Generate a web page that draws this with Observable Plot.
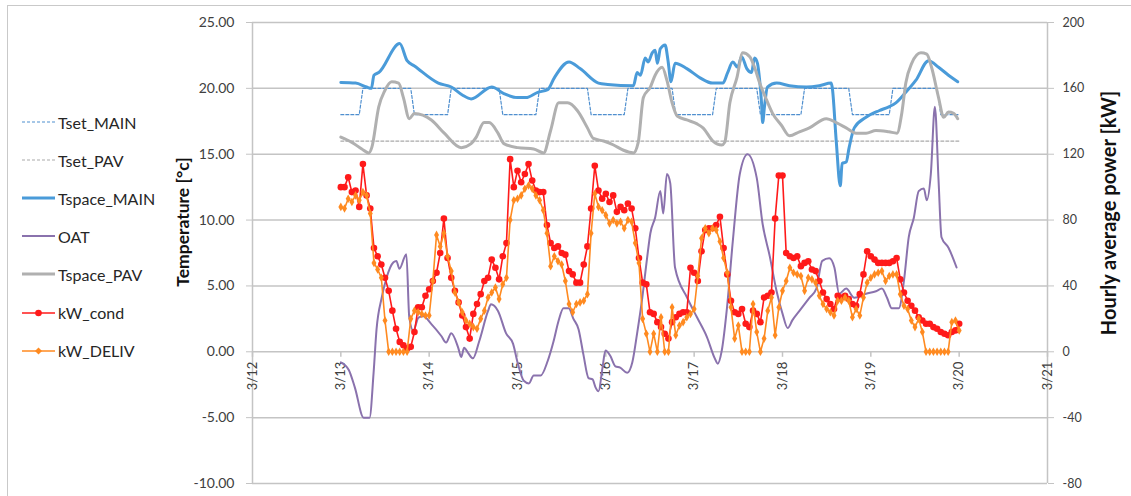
<!DOCTYPE html>
<html><head><meta charset="utf-8">
<script src="https://cdn.jsdelivr.net/npm/d3@7"></script>
<script src="https://cdn.jsdelivr.net/npm/@observablehq/plot@0.6"></script>
<style>
html,body{margin:0;padding:0;background:#fff;overflow:hidden;}
#wrap{position:relative;width:1131px;height:496px;font-family:Lato,"Open Sans",sans-serif;overflow:hidden;}
#frame{position:absolute;left:7px;top:5px;width:1300px;height:700px;border-left:1.5px solid #c9c9c9;border-top:1.5px solid #c9c9c9;}
#chart{position:absolute;left:0;top:0;}
#legend{position:absolute;left:22px;top:0;}
.item{position:absolute;left:0;display:flex;align-items:center;white-space:nowrap;font-size:16px;color:#262626;height:20px;}
.item svg{margin-right:2px;}
</style></head><body>
<div id="wrap"><div id="frame"></div><div id="chart"></div><div id="legend"></div></div>
<script>
// ---------- DATA ----------
// x positions: hours since 3/13 00:00 ; temperatures in °C ; power in kW
const startDay = 13;
const dayTicks = [12, 13, 14, 15, 16, 17, 18, 19, 20, 21];
const dayLabels = ["3/12", "3/13", "3/14", "3/15", "3/16", "3/17", "3/18", "3/19", "3/20", "3/21"];
const tempTicks = [-10, -5, 0, 5, 10, 15, 20, 25];
const kWPerDegree = 8; // right axis 200 kW ↔ left axis 25 °C

const tsetMainHours = [0,5,6,19,20,29,30,43,44,53,54,67,68,77,78,90,91,101,102,113,114,125,126,138,139,149,150,162,163,168];
const tsetMainValues = [18,18,20,20,18,18,20,20,18,18,20,20,18,18,20,20,18,18,20,20,18,18,20,20,18,18,20,20,18,18];

const tsetPavHours = [0, 168];
const tsetPavValues = [16, 16];

const tspaceMainHours = [0,4,7,8.3,9,10.3,16,18,20,26.5,30,33,35.4,41,44.3,48,50.3,53.5,56.2,58,62,65,70,72.5,79.5,80.5,81.4,82.7,83.5,84.6,85.4,86,86.8,88.1,88.9,89.7,90.8,94,97.6,101,103.8,105.1,106.5,107.8,108.9,110.3,111.6,112.4,113.2,113.8,114.3,114.6,115.1,115.9,118.4,121.9,126.5,130,133.2,133.5,134.6,135.7,136.2,137.3,138.1,139.5,142.7,146.2,148.9,150.8,153.5,156.2,159.7,162.4,165.1,167.6];
const tspaceMainValues = [20.45,20.4,20.1,20.0,21.0,21.2,23.4,22.1,21.7,20.4,20.1,19.5,19.2,20.1,19.6,19.3,19.3,19.7,19.9,20.8,22.0,21.5,20.4,20.3,20.2,21.2,21.0,22.3,22.0,22.7,22.9,21.9,23.0,23.3,22.1,20.5,21.9,21.5,20.8,20.4,20.4,21.2,22.0,21.6,22.4,21.5,21.2,22.3,21.9,20.6,18.9,17.4,18.6,20.1,20.4,20.2,20.1,20.2,20.4,20.1,16.0,12.6,14.3,14.4,15.5,17.0,17.8,18.3,18.6,18.9,19.7,20.6,22.1,21.6,21.0,20.5];

const oatHours = [0,2.2,3.8,6.2,7.8,8.9,9.7,11.1,12.4,14.3,15.1,15.9,17.8,18.6,19.7,21.1,22.4,24.6,27.3,28.6,30,31.9,32.7,33.5,34.6,35.9,37.6,40,40.8,42.7,44.9,46.8,48.1,49.7,51.1,52.4,54.3,56.2,57.8,59.2,60.5,61.9,63.2,64.6,65.9,67.3,68.4,69.2,70,71.1,71.9,73.2,74.6,75.9,77.8,79.2,80.5,81.9,83.2,84.1,85.4,86.8,87.6,88.6,89.5,90.8,94.1,96.8,99.5,101.6,102.4,103.5,104.9,106.5,108.4,110.5,113,114.6,116.5,118.4,120,121.4,122.7,124.6,127.3,129.2,130.8,132.7,134.1,135.4,137.3,139.5,142.7,145.4,147,148.4,149.7,151.6,153,154.3,155.7,157,158.4,159.2,160.3,161.4,162.4,163.2,165.1,167.3];
const oatValues = [-0.8,-1.4,-2.7,-5.0,-5.0,-1.6,1.7,4.1,5.6,6.8,6.9,6.3,7.4,2.6,1.6,2.6,2.7,2.1,1.2,0.7,1.4,0.3,-0.4,0.3,-0.1,-0.5,0.8,3.1,3.6,3.1,1.4,0.6,-0.9,-2.2,-2.4,-1.8,-1.8,-0.7,0.8,2.4,3.3,3.3,2.5,1.7,-0.2,-2.0,-2.1,-2.7,-3.0,-1.2,0.1,-0.3,-1.1,-1.2,-1.6,-0.8,1.4,4.1,7.1,9.0,10.2,12.2,10.5,13.5,12.8,6.4,4.1,2.6,1.1,-0.5,-0.9,0.1,3.3,8.4,13.5,15.0,13.2,9.7,7.3,4.6,2.9,1.8,2.4,3.1,4.1,4.8,6.9,7.1,6.4,4.4,4.8,4.1,4.4,4.6,4.8,4.1,3.3,3.3,5.4,8.7,10.2,12.2,12.4,11.5,13.5,18.6,13.0,8.7,7.9,6.4];

const tspacePavHours = [0,3,5.7,7.6,8.4,10.3,11.9,13.8,15.7,17,18.6,20,24.6,28.1,32.7,35.4,36.8,38.9,40.3,42.7,44.3,48.1,52.4,55.1,57,59.2,61.6,64.3,67,68.6,71.4,74.1,76.8,79.5,80.8,82.2,84.1,85.4,87.3,88.6,90,91.4,94,96.8,98.4,101.1,103.5,104.3,105.7,107.6,109.2,111.1,112.4,113.8,115.7,117.3,119.7,121.9,124.6,127.3,131.9,134.6,137.3,140,142.7,145.4,148.9,151.1,152.4,153.5,155.1,157.6,159.2,160.5,162.4,163.8,165.1,166.5,167.6];
const tspacePavValues = [16.3,15.9,15.4,15.1,15.5,18.6,19.8,20.5,20.4,19.3,17.7,18.1,17.6,16.6,15.5,15.8,16.3,17.4,17.4,16.6,15.8,15.5,15.4,15.1,16.8,18.9,18.9,18.3,17.0,16.2,16.0,15.7,15.3,15.1,15.9,19.3,20.1,21.0,21.6,20.6,18.9,17.9,17.6,17.3,17.0,16.0,15.7,15.9,18.9,20.8,22.7,22.4,21.6,20.4,19.1,18.1,17.2,16.4,16.7,17.0,17.7,17.4,17.0,16.6,16.6,16.8,16.7,16.6,18.1,20.4,21.9,22.7,22.6,21.6,19.3,17.8,18.2,18.1,17.7];

// hourly power, hour 0 (3/13 00:00) .. hour 168 (3/20 00:00)
const kWcond = [100,100,106,97,98,88,114,95,87,63,58,53,45,37,25,14,6,4,2,3,12,27,27,34,38,
 43,48,60,81,57,45,37,30,22,15,8,23,29,35,43,45,56,51,44,58,66,
 117,100,110,103,108,114,104,98,97,97,77,66,63,64,60,59,49,47,42,42,53,64,87,113,98,93,
 96,91,95,85,88,86,90,87,75,57,42,41,24,23,18,15,11,8,18,21,23,24,24,51,48,43,61,74,75,75,77,82,
 63,47,31,24,23,26,17,15,25,23,18,33,34,36,81,107,107,
 60,58,57,58,52,54,55,50,49,43,36,32,29,26,34,33,34,32,29,28,35,47,61,58,56,54,54,54,54,55,57,44,36,31,28,25,21,19,17,17,15,14,12,11,10,12,13,17];
const kWdeliv = [88,87,93,91,95,92,97,95,84,54,50,45,19,0,0,0,0,0,0,20,25,24,23,22,22,
 43,71,64,72,58,49,36,30,24,19,17,15,14,20,25,33,36,39,32,41,45,
 80,92,93,95,99,101,99,95,92,86,72,52,58,55,53,43,29,24,29,30,31,35,72,96,88,86,
 83,78,80,78,79,75,80,79,66,54,20,11,0,11,0,21,0,0,27,10,16,18,21,23,26,46,69,75,72,75,74,67,
 57,48,27,8,16,0,0,0,29,12,0,8,25,33,10,27,37,
 43,51,48,47,46,37,45,44,42,34,29,26,24,22,31,31,33,31,21,26,22,33,42,45,47,48,49,43,46,47,47,35,28,26,19,15,20,12,0,0,0,0,0,0,0,18,19,13];

const colors = {
  Tset_MAIN: "#4f8fcf", Tset_PAV: "#a9a9a9", Tspace_MAIN: "#4a9bd9",
  OAT: "#8a72ad", Tspace_PAV: "#b0b0b0", kW_cond: "#ff1a1a", kW_DELIV: "#ff8a20"
};

// ---------- BUILD ----------
const toDay = h => startDay + h / 24;
const series = (hs, vs, f = v => v) => hs.map((h, i) => ({x: toDay(h), y: f(vs[i])}));
const kwToT = v => v / kWPerDegree;

const tsetMain = series(tsetMainHours, tsetMainValues);
const tsetPav = series(tsetPavHours, tsetPavValues);
const tspaceMain = series(tspaceMainHours, tspaceMainValues);
const oat = series(oatHours, oatValues);
const tspacePav = series(tspacePavHours, tspacePavValues);
const cond = series(kWcond.map((_, i) => i), kWcond, kwToT);
const deliv = series(kWdeliv.map((_, i) => i), kWdeliv, kwToT);

const grid = "#c4c4c4";

const chart = Plot.plot({
  width: 1131, height: 496,
  marginLeft: 252, marginRight: 84, marginTop: 22, marginBottom: 13,
  x: {domain: [12, 21], axis: null},
  y: {domain: [-10, 25]},
  style: {fontFamily: "Lato, 'Open Sans', sans-serif", fontSize: "14px", color: "#404040", background: "transparent", overflow: "visible"},
  marks: [
    Plot.gridY(tempTicks, {stroke: grid, strokeOpacity: 1, strokeWidth: 1.5}),
    Plot.ruleX([12, 21], {stroke: grid, strokeWidth: 1.5}),
    Plot.axisY(tempTicks, {anchor: "left", tickFormat: d => d.toFixed(2), tickSize: 6, tickPadding: 12, stroke: grid, fontSize: 14, label: null}),
    Plot.axisY(tempTicks, {anchor: "right", tickFormat: d => String(d * kWPerDegree), tickSize: 6, tickPadding: 9, stroke: grid, fontSize: 12.5, label: null}),
    Plot.ruleX(dayTicks, {x: d => d, y1: 0, y2: -0.42, stroke: grid, strokeWidth: 1.5}),
    Plot.text(dayTicks, {x: d => d, y: 0, text: (d, i) => dayLabels[i], rotate: -90, textAnchor: "end", dy: 10, fontSize: 13}),
    Plot.text(["Temperature [°c]"], {text: d => d, frameAnchor: "left", textAnchor: "middle", dx: -69, dy: -31, rotate: -90, fontWeight: "bold", fontSize: 17.5, fill: "#111"}),
    Plot.text(["Hourly average power [kW]"], {text: d => d, frameAnchor: "right", textAnchor: "middle", dx: 62, dy: -40, rotate: -90, fontWeight: "bold", fontSize: 20, fill: "#111"}),

    Plot.line(tsetMain, {x: "x", y: "y", stroke: colors.Tset_MAIN, strokeWidth: 1.2, strokeDasharray: "3,2"}),
    Plot.line(tsetPav, {x: "x", y: "y", stroke: colors.Tset_PAV, strokeWidth: 1.2, strokeDasharray: "3,2"}),
    Plot.line(tspaceMain, {x: "x", y: "y", stroke: colors.Tspace_MAIN, strokeWidth: 3, curve: "monotone-x"}),
    Plot.line(oat, {x: "x", y: "y", stroke: colors.OAT, strokeWidth: 2, curve: "monotone-x"}),
    Plot.line(tspacePav, {x: "x", y: "y", stroke: colors.Tspace_PAV, strokeWidth: 3, curve: "monotone-x"}),

    Plot.line(cond, {x: "x", y: "y", stroke: colors.kW_cond, strokeWidth: 1.6}),
    Plot.dot(cond, {x: "x", y: "y", r: 3.3, fill: colors.kW_cond}),
    Plot.line(deliv, {x: "x", y: "y", stroke: colors.kW_DELIV, strokeWidth: 1.6}),
    Plot.dot(deliv, {x: "x", y: "y", r: 2.6, symbol: "diamond", fill: colors.kW_DELIV})
  ]
});
document.getElementById("chart").appendChild(chart);

// ---------- LEGEND ----------
const legendItems = [
  {name: "Tset_MAIN", color: colors.Tset_MAIN, width: 1.2, dash: "3,2"},
  {name: "Tset_PAV", color: colors.Tset_PAV, width: 1.2, dash: "3,2"},
  {name: "Tspace_MAIN", color: colors.Tspace_MAIN, width: 3},
  {name: "OAT", color: colors.OAT, width: 2},
  {name: "Tspace_PAV", color: colors.Tspace_PAV, width: 3},
  {name: "kW_cond", color: colors.kW_cond, width: 1.6, marker: "circle"},
  {name: "kW_DELIV", color: colors.kW_DELIV, width: 1.6, marker: "diamond"}
];
const legend = d3.select("#legend");
legendItems.forEach((it, i) => {
  const row = legend.append("div").attr("class", "item").style("top", (112 + i * 38.1) + "px");
  const s = row.append("svg").attr("width", 34).attr("height", 20);
  s.append("line").attr("x1", 0).attr("x2", 33).attr("y1", 10).attr("y2", 10)
    .attr("stroke", it.color).attr("stroke-width", it.width).attr("stroke-dasharray", it.dash || null);
  if (it.marker === "circle") s.append("circle").attr("cx", 16.5).attr("cy", 10).attr("r", 3.3).attr("fill", it.color);
  if (it.marker === "diamond") s.append("path").attr("d", "M16.5,6.5L20,10L16.5,13.5L13,10Z").attr("fill", it.color);
  row.append("span").text(it.name);
});
</script></body></html>
